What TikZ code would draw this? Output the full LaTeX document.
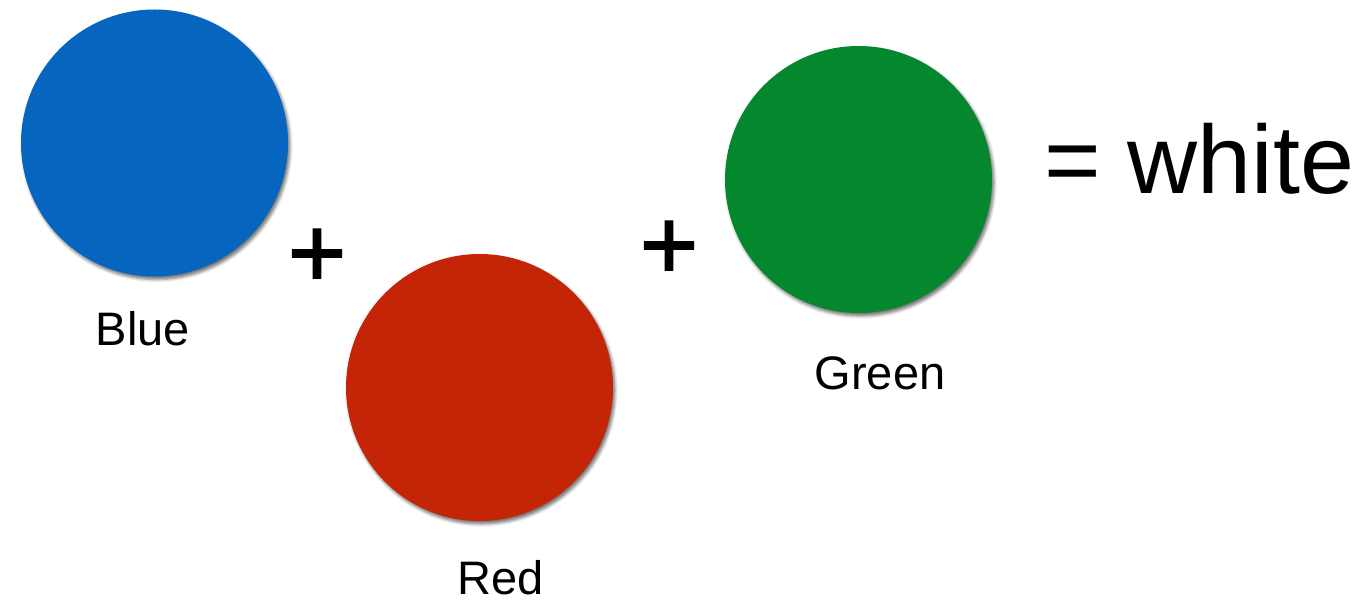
\documentclass[tikz,border=0pt]{standalone}
\usepackage{fontspec}
\setmainfont{Liberation Sans}
\newfontfamily\plusfont[FakeBold=1.6]{Liberation Sans}
\usetikzlibrary{shadows.blur}
\definecolor{cblue}{HTML}{0565BF}
\definecolor{cred}{HTML}{C52507}
\definecolor{cgreen}{HTML}{05882D}
\tikzset{
  dot/.style={circle, minimum size=267pt, inner sep=0pt, draw=none,
    blur shadow={shadow xshift=2pt, shadow yshift=-3pt, shadow blur radius=3pt, shadow opacity=55}},
  lbl/.style={anchor=base, inner sep=0pt, font=\fontsize{47}{47}\selectfont},
  plus/.style={inner sep=0pt, font=\plusfont\fontsize{100}{100}\selectfont}
}
\begin{document}
\begin{tikzpicture}[x=1pt,y=-1pt]
\useasboundingbox (0,0) rectangle (1359,601);
\node[dot, fill=cblue] (blue) at (154.5,143) {};
\node[dot, fill=cred] (red) at (479.5,387.5) {};
\node[dot, fill=cgreen] (green) at (858.5,179.5) {};
\node[lbl] (blueL) at (143,345) {Blue};
\node[lbl] (redL) at (501,594) {Red};
\node[lbl] (greenL) at (880,389) {Green};
\node[plus] (p1) at (317,258) {+};
\node[plus] (p2) at (669,250) {+};
\node[anchor=base west, inner sep=0pt, font=\fontsize{97}{97}\selectfont] (eq) at (1044,194) {= white};
\end{tikzpicture}
\end{document}
